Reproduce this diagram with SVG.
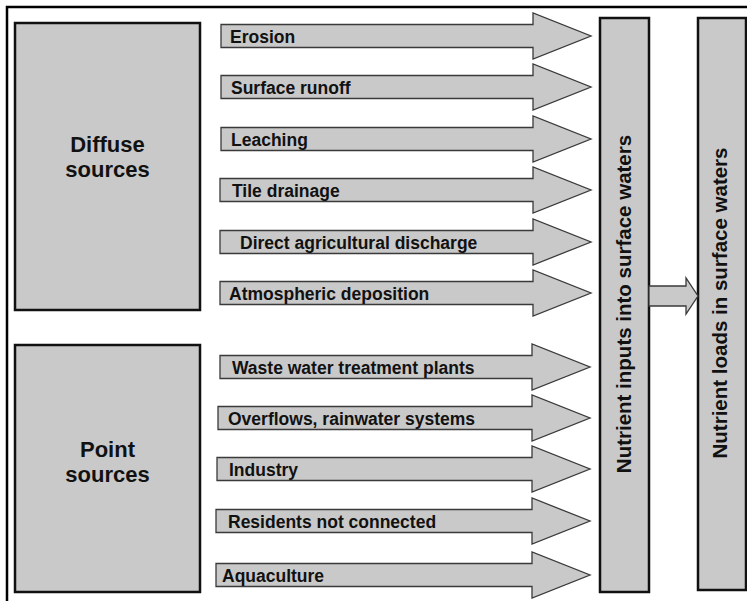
<svg xmlns="http://www.w3.org/2000/svg" width="747" height="601" viewBox="0 0 747 601">
<style>
.box{fill:#c9c9c9;stroke:#111;stroke-width:2.5}
.arr{fill:#c9c9c9;stroke:#3a3a3a;stroke-width:1.3;stroke-linejoin:miter}
.lbl{font-family:"Liberation Sans",Arial,sans-serif;font-weight:bold;font-size:17.5px;fill:#111}
.big{font-family:"Liberation Sans",Arial,sans-serif;font-weight:bold;font-size:22px;fill:#111;text-anchor:middle}
.vt{font-family:"Liberation Sans",Arial,sans-serif;font-weight:bold;font-size:20.5px;fill:#111;text-anchor:middle}
</style>
<rect width="747" height="601" fill="#fff"/>
<rect x="7" y="7" width="760" height="620" fill="none" stroke="#000" stroke-width="2.5"/>
<g id="diffuse">
<rect class="box" x="15" y="23" width="185" height="287"/>
<text class="big" x="107.5" y="152">Diffuse</text>
<text class="big" x="107.5" y="177">sources</text>
</g>
<g id="point">
<rect class="box" x="15" y="345" width="185" height="247"/>
<text class="big" x="107.5" y="457">Point</text>
<text class="big" x="107.5" y="482">sources</text>
</g>
<g id="inputs">
<rect class="box" x="600" y="18" width="49" height="574"/>
<text class="vt" transform="translate(631,304) rotate(-90)">Nutrient inputs into surface waters</text>
</g>
<g id="loads">
<rect class="box" x="698" y="18" width="48" height="572"/>
<text class="vt" transform="translate(727,303) rotate(-90)">Nutrient loads in surface waters</text>
</g>
<g id="connectors">
<path class="arr" d="M221,24.5H533V13L591,36L533,59V47.5H221Z"/>
<path class="arr" d="M221,75.5H533V64L591,87L533,110V98.5H221Z"/>
<path class="arr" d="M221,127.5H533V116L591,139L533,162V150.5H221Z"/>
<path class="arr" d="M220,178.5H533V167L591,190L533,213V201.5H220Z"/>
<path class="arr" d="M220,230.5H533V219L591,242L533,265V253.5H220Z"/>
<path class="arr" d="M220,281.5H533V270L591,293L533,316V304.5H220Z"/>
<path class="arr" d="M220,355.5H532V344L590,367L532,390V378.5H220Z"/>
<path class="arr" d="M218,406.5H532V395L590,418L532,441V429.5H218Z"/>
<path class="arr" d="M217,457.5H532V446L590,469L532,492V480.5H217Z"/>
<path class="arr" d="M216,509.5H532V498L590,521L532,544V532.5H216Z"/>
<path class="arr" d="M216,563.5H532V552L590,575L532,598V586.5H216Z"/>
<path class="arr" d="M649,286H686V278L698,296L686,314V306H649Z"/>
</g>
<g id="labels">
<text class="lbl" x="230" y="42.5">Erosion</text>
<text class="lbl" x="231" y="93.5">Surface runoff</text>
<text class="lbl" x="231" y="145.5">Leaching</text>
<text class="lbl" x="232" y="196.5">Tile drainage</text>
<text class="lbl" x="240" y="248.5">Direct agricultural discharge</text>
<text class="lbl" x="229" y="299.5">Atmospheric deposition</text>
<text class="lbl" x="232" y="373.5">Waste water treatment plants</text>
<text class="lbl" x="228" y="424.5">Overflows, rainwater systems</text>
<text class="lbl" x="229" y="475.5">Industry</text>
<text class="lbl" x="228" y="527.5">Residents not connected</text>
<text class="lbl" x="222" y="581.5">Aquaculture</text>
</g>
</svg>
